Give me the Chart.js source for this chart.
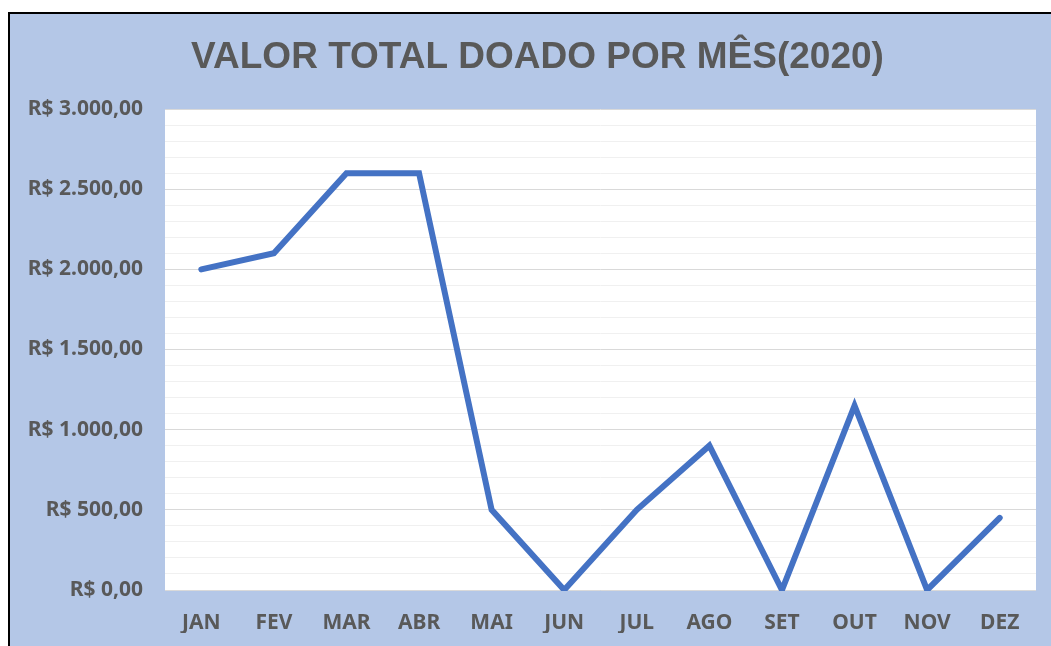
<!DOCTYPE html>
<html lang="pt-BR">
<head>
<meta charset="utf-8">
<title>Valor total doado por mês (2020)</title>
<script src="https://cdn.jsdelivr.net/npm/chart.js@4.4.1/dist/chart.umd.min.js"></script>
<style>
    html, body { margin: 0; padding: 0; background: #ffffff; overflow: hidden; }
    body { width: 1051px; height: 646px; position: relative; }
    .chart-box {
        position: absolute;
        left: 8px;
        top: 12px;
        width: 1100px;
        height: 700px;
        background: #b4c7e7;
        border-left: 2px solid #000;
        border-top: 2px solid #000;
    }
    .chart-wrap { position: absolute; left: 0; top: 0; width: 1055px; height: 632px; }
</style>
</head>
<body>
<div class="chart-box">
    <div class="chart-wrap"><canvas id="donationChart"></canvas></div>
</div>
<script>
// Donations per month, 2020 (R$)
const months = ['JAN', 'FEV', 'MAR', 'ABR', 'MAI', 'JUN', 'JUL', 'AGO', 'SET', 'OUT', 'NOV', 'DEZ'];
const donated = [2000, 2100, 2600, 2600, 500, 0, 500, 900, 0, 1150, 0, 450];
const yTicks = [0, 500, 1000, 1500, 2000, 2500, 3000];

const TEXT_GREY = '#595959';
const TICK_FONT = { family: '"Noto Sans", sans-serif', size: 21, weight: 'bold' };

function formatBRL(v) {
    const parts = v.toFixed(2).split('.');
    const intPart = parts[0].replace(/\B(?=(\d{3})+(?!\d))/g, '.');
    return 'R$ ' + intPart + ',' + parts[1];
}

// white plot area on the blue chart background
const plotBackground = {
    id: 'plotBackground',
    beforeDraw(chart) {
        const { ctx, chartArea: a } = chart;
        ctx.save();
        ctx.fillStyle = '#ffffff';
        ctx.fillRect(a.left, a.top, a.right - a.left, a.bottom - a.top);
        ctx.restore();
    }
};

new Chart(document.getElementById('donationChart'), {
    type: 'line',
    data: {
        labels: months,
        datasets: [{
            label: 'Valor doado',
            data: donated,
            borderColor: '#4472c4',
            borderWidth: 6,
            borderCapStyle: 'round',
            pointRadius: 0,
            pointHoverRadius: 0,
            tension: 0,
            clip: 1
        }]
    },
    options: {
        responsive: true,
        maintainAspectRatio: false,
        animation: false,
        layout: { padding: { left: 0, right: 0, top: 0, bottom: 13 } },
        plugins: {
            legend: { display: false },
            tooltip: { enabled: false },
            title: {
                display: true,
                text: 'VALOR TOTAL DOADO POR MÊS(2020)',
                color: TEXT_GREY,
                font: { family: '"Liberation Sans", Arial, sans-serif', size: 37, weight: 'bold' },
                padding: { top: 22, bottom: 28.6 }
            }
        },
        scales: {
            x: {
                offset: true,
                grid: { display: false },
                border: { display: false },
                ticks: {
                    color: TEXT_GREY,
                    padding: 12,
                    maxRotation: 0,
                    font: TICK_FONT
                },
                afterFit(scale) { scale.height = 43; }
            },
            y: {
                min: 0,
                max: 3000,
                border: { display: false },
                grid: {
                    drawTicks: false,
                    color: (ctx) => (ctx.tick && yTicks.includes(ctx.tick.value)) ? '#d9d9d9' : '#f0f0f0',
                    lineWidth: 1
                },
                ticks: {
                    stepSize: 100,
                    maxTicksLimit: 40,
                    autoSkip: false,
                    padding: 22,
                    color: TEXT_GREY,
                    font: TICK_FONT,
                    callback: (v) => yTicks.includes(v) ? formatBRL(v) : ''
                },
                afterFit(scale) { scale.width = 155; }
            },
            // empty right-hand margin so the title stays centred on the whole box
            yRight: {
                position: 'right',
                grid: { display: false },
                border: { display: false },
                ticks: { display: false },
                afterFit(scale) { scale.width = 29; }
            }
        }
    },
    plugins: [plotBackground]
});
</script>
</body>
</html>
